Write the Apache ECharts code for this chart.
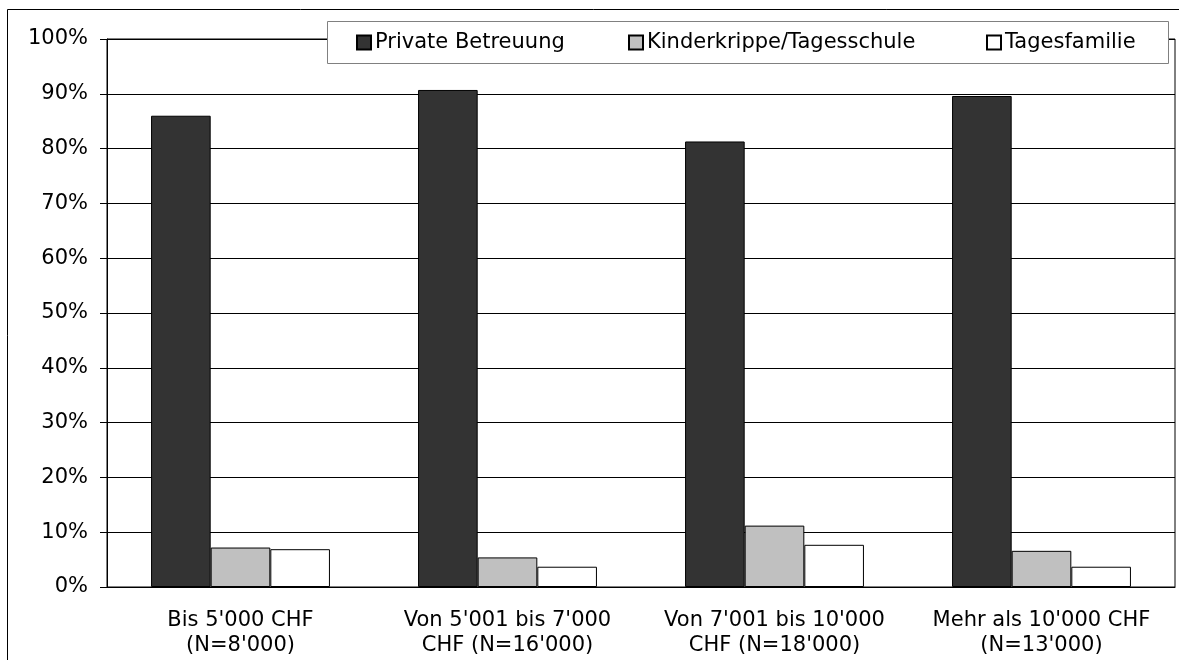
<!DOCTYPE html>
<html>
<head>
<meta charset="utf-8">
<script src="https://cdn.jsdelivr.net/npm/echarts@6/dist/echarts.min.js"></script>
<style>
html,body{margin:0;padding:0;background:#fff;}
#chart{width:1179px;height:660px;}
</style>
</head>
<body>
<div id="chart"></div>
<script>
const categories = [
  "Bis 5'000 CHF\n(N=8'000)",
  "Von 5'001 bis 7'000\nCHF (N=16'000)",
  "Von 7'001 bis 10'000\nCHF (N=18'000)",
  "Mehr als 10'000 CHF\n(N=13'000)"
];
const seriesNames = ["Private Betreuung", "Kinderkrippe/Tagesschule", "Tagesfamilie"];
const privateBetreuung = [86.0, 90.7, 81.3, 89.6];
const kinderkrippe = [7.2, 5.4, 11.2, 6.6];
const tagesfamilie = [6.9, 3.7, 7.7, 3.7];
const yTicks = { min: 0, max: 100, interval: 10 };

const FONT = "DejaVu Sans";
const FS = 21;
const chart = echarts.init(document.getElementById('chart'), null, { renderer: 'canvas' });

const barStyle = (color) => ({ color: color, borderColor: '#000', borderWidth: 1 });
const legendLefts = [356, 628, 986];
const legends = seriesNames.map((n, i) => ({
  data: [n],
  left: legendLefts[i], top: 32,
  padding: 0,
  itemWidth: 14, itemHeight: 14,
  icon: 'rect',
  z: 10,
  textStyle: { fontFamily: FONT, fontSize: FS, color: '#000', lineHeight: 21, padding: [0, 0, 0, -1] }
}));

chart.setOption({
  animation: false,
  backgroundColor: '#fff',
  textStyle: { fontFamily: FONT, color: '#000' },
  graphic: [{
    type: 'rect',
    shape: { x: 7.5, y: 9.5, width: 1300, height: 800 },
    style: { fill: 'none', stroke: '#000', lineWidth: 1 },
    silent: true, z: -10
  }, {
    type: 'rect',
    shape: { x: 327.5, y: 21.5, width: 841, height: 42 },
    style: { fill: '#fff', stroke: '#808080', lineWidth: 1 },
    silent: true, z: 5
  }],
  grid: {
    left: 107, right: 4, top: 39, bottom: 73,
    show: true, borderColor: '#000', borderWidth: 1, backgroundColor: 'transparent'
  },
  legend: legends,
  xAxis: {
    type: 'category',
    data: categories,
    axisLine: { lineStyle: { color: '#000', width: 1 } },
    axisTick: { show: false },
    axisLabel: { fontFamily: FONT, fontSize: FS, color: '#000', lineHeight: 25, margin: 21, interval: 0 }
  },
  yAxis: {
    type: 'value',
    min: yTicks.min, max: yTicks.max, interval: yTicks.interval,
    axisLine: { show: true, lineStyle: { color: '#000', width: 1 } },
    axisTick: { show: true, length: 7, lineStyle: { color: '#000' } },
    axisLabel: { fontFamily: FONT, fontSize: FS, color: '#000', margin: 19, formatter: '{value}%' },
    splitLine: { show: true, lineStyle: { color: '#000', width: 1 } }
  },
  series: [
    { name: seriesNames[0], type: 'bar', data: privateBetreuung, barGap: '0%', barCategoryGap: '33%', itemStyle: barStyle('#333333') },
    { name: seriesNames[1], type: 'bar', data: kinderkrippe, barGap: '0%', barCategoryGap: '33%', itemStyle: barStyle('#c0c0c0') },
    { name: seriesNames[2], type: 'bar', data: tagesfamilie, barGap: '0%', barCategoryGap: '33%', itemStyle: barStyle('#ffffff') }
  ]
});
</script>
</body>
</html>
